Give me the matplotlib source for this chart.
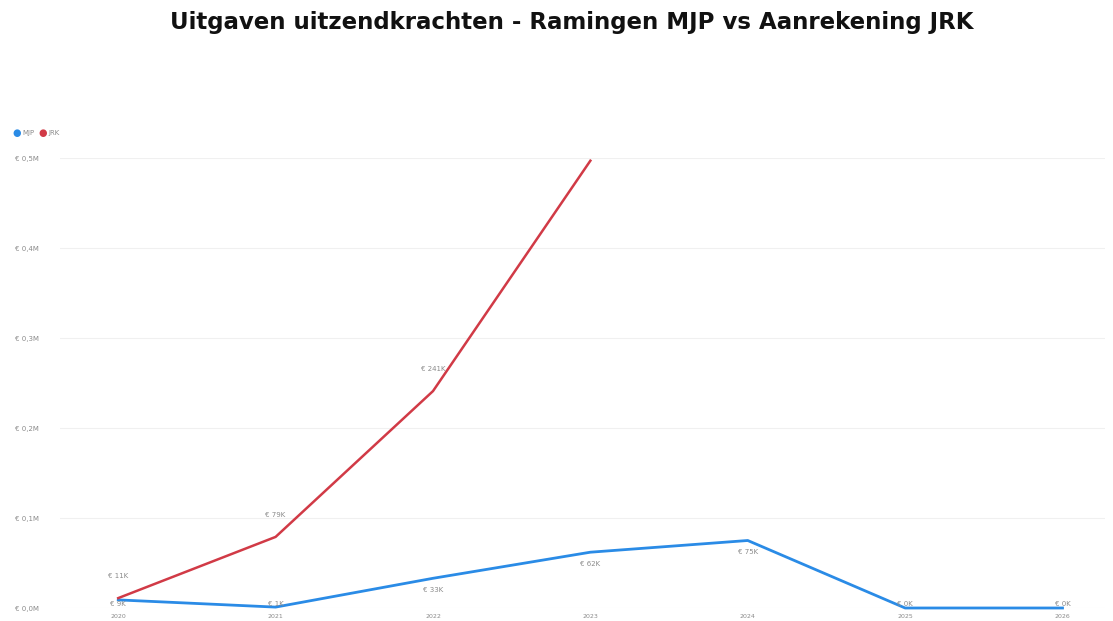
import matplotlib.pyplot as plt

years = [2020, 2021, 2022, 2023, 2024, 2025, 2026]
mjp = [9, 1, 33, 62, 75, 0, 0]          # in thousands of euro
jrk_years = [2020, 2021, 2022, 2023]
jrk = [11, 79, 241, 497]                # in thousands of euro
y_ticks = [0, 100, 200, 300, 400, 500]

blue = '#2a8be6'
red = '#d13a46'
grey = '#8a8a8a'

W, H = 1113, 621
fig = plt.figure(figsize=(W / 100, H / 100), dpi=100)
# axes placed in pixel terms: left 60, right 1105, bottom at y=608, top at y=158
ax = fig.add_axes([60 / W, (H - 608) / H, (1105 - 60) / W, (608 - 158) / H])

fig.text(572 / W, 1 - 22 / H, 'Uitgaven uitzendkrachten - Ramingen MJP vs Aanrekening JRK',
         ha='center', va='center', fontsize=16.5, fontweight='heavy', color='#111111')

ax.plot(years, mjp, color=blue, lw=2, clip_on=False, solid_joinstyle='round')
ax.plot(jrk_years, jrk, color=red, lw=1.8, clip_on=False, solid_joinstyle='round')

# MJP labels go under the line, but never below the bottom edge of the plot
for x, v in zip(years, mjp):
    ax.annotate(f'€ {v}K', (x, v), xytext=(x, max(v - 13, 4)), textcoords='data',
                ha='center', va='center', fontsize=5, color=grey)
for x, v in zip(jrk_years[:3], jrk[:3]):
    ax.annotate(f'€ {v}K', (x, v), xytext=(0, 16), textcoords='offset points',
                ha='center', va='center', fontsize=5, color=grey)

ax.set_xlim(2019.63, 2026.27)
ax.set_ylim(0, 500)
ax.set_xticks(years)
ax.set_xticklabels([str(y) for y in years])
ax.set_yticks(y_ticks)
ax.set_yticklabels([f'€ {t / 1000:.1f}M'.replace('.', ',') for t in y_ticks])
ax.tick_params(length=0, labelsize=4.5, labelcolor=grey)
ax.tick_params(axis='x', pad=4)
ax.tick_params(axis='y', pad=0, labelsize=5)
for lbl in ax.get_yticklabels():
    lbl.set_horizontalalignment('left')
    lbl.set_x(-45 / 1045)
ax.grid(axis='y', color='#f0f0f0', lw=0.8)
ax.set_axisbelow(True)
for s in ax.spines.values():
    s.set_visible(False)

# legend in the top-left corner
fig.text(12 / W, 1 - 133 / H, '●', color=blue, fontsize=7, va='center')
fig.text(22 / W, 1 - 133 / H, 'MJP', color=grey, fontsize=5, va='center')
fig.text(38 / W, 1 - 133 / H, '●', color=red, fontsize=7, va='center')
fig.text(48 / W, 1 - 133 / H, 'JRK', color=grey, fontsize=5, va='center')

fig.savefig('out.png', dpi=100, facecolor='white')
